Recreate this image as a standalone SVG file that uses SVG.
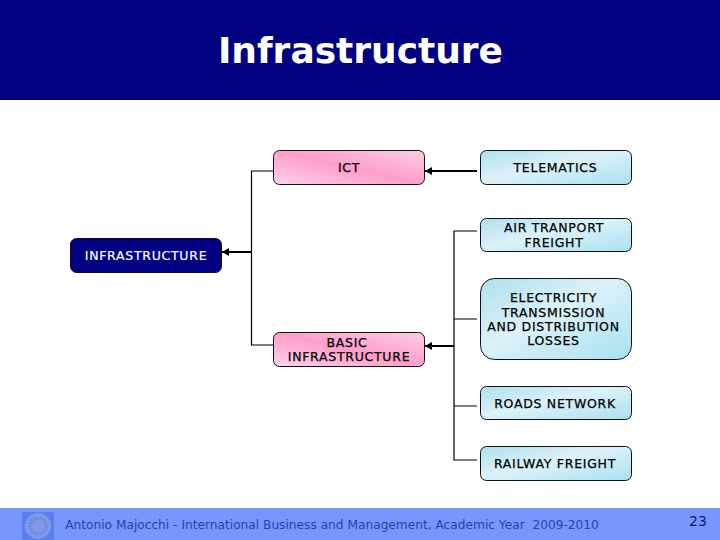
<svg xmlns="http://www.w3.org/2000/svg" width="720" height="540" viewBox="0 0 720 540">
<style>
text{font-family:"DejaVu Sans",Verdana,sans-serif;text-anchor:middle}
.t{font-size:12.500px;letter-spacing:.72px;fill:#000;stroke:#000;stroke-width:.25}
.w{font-size:12.500px;letter-spacing:.72px;fill:#fff;stroke:#fff;stroke-width:.2}
.pink{fill:url(#pinkG);stroke:#111;stroke-width:1}
.blue{fill:url(#blueG);stroke:#111;stroke-width:1}
.thin{fill:none;stroke:#000;stroke-width:1.200}
.thick{fill:none;stroke:#000;stroke-width:2;marker-end:url(#arr)}
</style>
<defs>
<linearGradient id="pinkG" x1="0" y1="1" x2="1" y2="0"><stop offset="0" stop-color="#fbd3ec"/><stop offset=".5" stop-color="#ff9ecb"/><stop offset="1" stop-color="#fbcfe4"/></linearGradient>
<linearGradient id="blueG" x1="0" y1="0" x2="1" y2="1"><stop offset="0" stop-color="#aee0ee"/><stop offset=".45" stop-color="#dcf2f9"/><stop offset="1" stop-color="#a9e0f0"/></linearGradient>
<marker id="arr" markerUnits="userSpaceOnUse" markerWidth="8" markerHeight="10" refX="7" refY="4" orient="auto"><path d="M0,0L7,4L0,8z" fill="#000"/></marker>
</defs>
<rect width="720" height="540" fill="#fff"/>
<rect id="header" width="720" height="100" fill="#000080"/>
<text x="360.500" y="63" font-size="36" font-weight="700" fill="#fff">Infrastructure</text>
<g id="connectors">
<path class="thin" d="M273 171H251.500V345H273"/>
<path class="thin" d="M477 231H454V460H477M454 319H477M454 406H477"/>
<path class="thick" d="M477 171H425"/>
<path class="thick" d="M251 252H222"/>
<path class="thick" d="M454 346H425"/>
</g>
<g id="ict"><rect class="pink" x="273.500" y="150.500" width="151" height="34" rx="6"/><text class="t" x="349" y="172">ICT</text></g>
<g id="telematics"><rect class="blue" x="480.500" y="150.500" width="151" height="34" rx="6"/><text class="t" x="555.500" y="172">TELEMATICS</text></g>
<g id="air"><rect class="blue" x="480.500" y="218.500" width="151" height="33" rx="6"/><text class="t" x="554" y="232">AIR TRANPORT</text><text class="t" x="554" y="247">FREIGHT</text></g>
<g id="infrastructure"><rect x="70.500" y="238.500" width="151" height="34" rx="6" fill="#000080" stroke="#111"/><text class="w" x="146" y="260">INFRASTRUCTURE</text></g>
<g id="basic"><rect class="pink" x="273.500" y="332.500" width="151" height="34" rx="6"/><text class="t" x="347" y="347">BASIC</text><text class="t" x="349" y="361">INFRASTRUCTURE</text></g>
<g id="electricity"><rect class="blue" x="480.500" y="278.500" width="151" height="81" rx="14"/><text class="t" x="553.500" y="302">ELECTRICITY</text><text class="t" x="553.500" y="317">TRANSMISSION</text><text class="t" x="553.500" y="331">AND DISTRIBUTION</text><text class="t" x="553.500" y="345">LOSSES</text></g>
<g id="roads"><rect class="blue" x="480.500" y="386.500" width="151" height="33" rx="6"/><text class="t" x="555" y="408">ROADS NETWORK</text></g>
<g id="railway"><rect class="blue" x="480.500" y="446.500" width="151" height="34" rx="6"/><text class="t" x="555" y="468">RAILWAY FREIGHT</text></g>
<rect id="footer" y="508" width="720" height="32" fill="#7797fd"/>
<rect x="22" y="512" width="32" height="28" fill="#5a80ee"/>
<circle cx="38" cy="526" r="12.500" fill="#7f99e6" stroke="#8fa6ea" stroke-width="1" stroke-dasharray="2 1"/>
<circle cx="38" cy="526" r="8" fill="none" stroke="#6a86d8" stroke-width="3" stroke-dasharray="1.500 1.500"/>
<text x="332" y="529" font-size="12.200" fill="#2a3fb0" xml:space="preserve">Antonio Majocchi - International Business and Management, Academic Year  2009-2010</text>
<text x="698" y="526" font-size="14" fill="#0a1a80">23</text>
</svg>
